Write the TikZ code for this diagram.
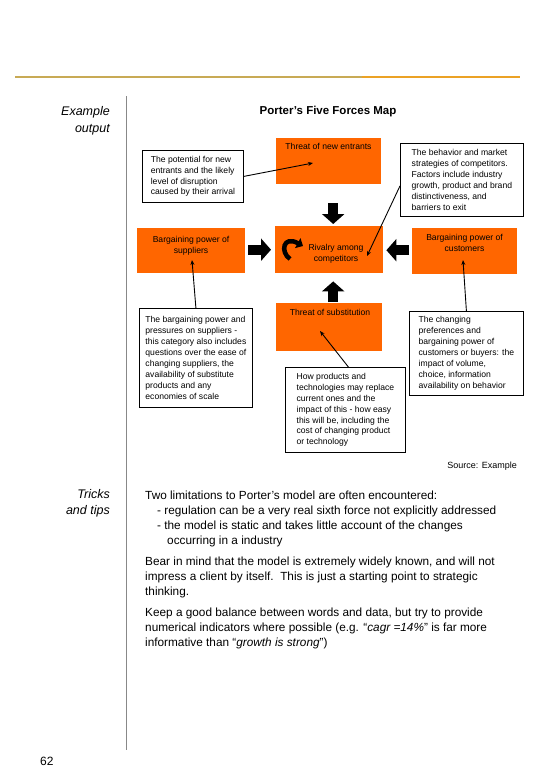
\documentclass[tikz,border=0pt]{standalone}
\usepackage{fontspec}
\setmainfont{Liberation Sans}
\usetikzlibrary{arrows.meta,calc}
\definecolor{porange}{HTML}{FF6600}
\definecolor{goldA}{HTML}{C8AA55}
\definecolor{goldB}{HTML}{EBA225}
\definecolor{vgray}{HTML}{888888}
\newcommand{\fdiag}{\fontsize{8.6}{10.9}\selectfont}
\newcommand{\fbody}{\fontsize{11.8}{15}\selectfont}
\newcommand{\fside}{\fontsize{12.5}{16.5}\selectfont\itshape}
\begin{document}
\begin{tikzpicture}[x=1pt,y=-1pt,
  force/.style={fill=porange, draw=none, inner sep=0pt, anchor=north west},
  forcetext/.style={font=\fdiag, align=center, anchor=north, inner sep=0pt},
  callout/.style={draw=black, line width=0.8pt, fill=white, font=\fdiag, align=left, anchor=north west, inner xsep=6pt, inner ysep=0pt},
  note/.style={-{Stealth[length=5pt,width=4pt]}, line width=0.9pt},
  blockarrow/.style={line width=10pt, -{Triangle[length=10pt,width=22pt]}},
  bodytext/.style={font=\fbody, align=left, anchor=north west, inner sep=0pt},
  sidetext/.style={font=\fside, align=right, anchor=north east, inner sep=0pt}
]
\useasboundingbox (0,0) rectangle (540,780);
\fill[white] (0,0) rectangle (540,780);

% rules
\draw[goldA, line width=2.5pt] (15,77) -- (362,77);
\draw[goldB, line width=2.5pt] (362,77) -- (520,77);
\draw[vgray, line width=1pt] (126,96) -- (126,750);

% side labels
\node[sidetext] (lab1) at (110,106.5) {Example\\output};
\node[sidetext] (lab2) at (110,489) {Tricks\\and tips};
\node[font=\fontsize{12}{14}\selectfont, anchor=base west, inner sep=0pt] (page) at (40,765) {62};

% title
\node[font=\fontsize{11.5}{14}\selectfont\bfseries, anchor=base, inner sep=0pt] (title) at (328,114) {Porter's Five Forces Map};

% forces
\node[force, minimum width=105pt, minimum height=46pt] (NE) at (276,138) {};
\node[forcetext] (NEt) at (328.5,143.5) {Threat of new entrants};
\node[force, minimum width=108pt, minimum height=45pt] (SUP) at (137,228) {};
\node[forcetext] (SUPt) at (191,236.5) {Bargaining power of\\suppliers};
\node[force, minimum width=108pt, minimum height=47pt] (RIV) at (275,226) {};
\node[forcetext] (RIVt) at (336,244) {Rivalry among\\competitors};
\node[force, minimum width=105pt, minimum height=46pt] (CUS) at (412,228) {};
\node[forcetext] (CUSt) at (464.5,234) {Bargaining power of\\customers};
\node[force, minimum width=106pt, minimum height=48pt] (SUB) at (276,303) {};
\node[forcetext] (SUBt) at (330,309.5) {Threat of substitution};

% block arrows
\draw[blockarrow, shorten <=19pt, shorten >=2pt] ([xshift=4.5pt]NE.south) -- ([xshift=4.5pt]NE.south |- RIV.north);
\draw[blockarrow, shorten <=1pt, shorten >=8pt] ([xshift=4pt]SUB.north) -- ([xshift=4pt]SUB.north |- RIV.south);
\draw[blockarrow, shorten <=3pt, shorten >=4pt] ([yshift=1pt]SUP.east) -- ([yshift=1pt]SUP.east -| RIV.west);
\draw[blockarrow, shorten <=3pt, shorten >=3pt] ([yshift=1pt]CUS.west) -- ([yshift=1pt]CUS.west -| RIV.east);

% circular arrow in rivalry box
\draw[line width=4.5pt, -{Triangle[length=6pt,width=11pt]}] (290,259) .. controls (280,252) and (283,235) .. (303,246);

% callouts
\node[callout, minimum width=101pt, minimum height=52pt] (A) at (142,150) {The potential for new\\entrants and the likely\\level of disruption\\caused by their arrival};
\node[callout, minimum width=123pt, minimum height=73pt] (B) at (400,143) {The behavior and market\\strategies of competitors.\\Factors include industry\\growth, product and brand\\distinctiveness, and\\barriers to exit};
\node[callout, minimum width=113pt, minimum height=99pt] (C) at (139,308) {The bargaining power and\\pressures on suppliers -\\this category also includes\\questions over the ease of\\changing suppliers, the\\availability of substitute\\products and any\\economies of scale};
\node[callout, minimum width=120pt, minimum height=85pt] (D) at (285,367) {How products and\\technologies may replace\\current ones and the\\impact of this - how easy\\this will be, including the\\cost of changing product\\or technology};
\node[callout, minimum width=114pt, minimum height=84pt] (E) at (409,311) {The changing\\preferences and\\bargaining power of\\customers or buyers: the\\impact of volume,\\choice, information\\availability on behavior};

% note connectors
\coordinate (NEp) at (313,163);
\coordinate (RIVp) at (367,256);
\coordinate (SUPp) at (192,260);
\coordinate (SUBp) at (320,331);
\coordinate (CUSp) at (463,260);
\draw[note] (A.east) -- (NEp);
\draw[note] ([yshift=-6pt]B.west) -- (RIVp);
\draw[note] (C.north) -- (SUPp);
\draw[note] ([xshift=3pt]D.north) -- (SUBp);
\draw[note] (E.north) -- (CUSp);

% source
\node[font=\fontsize{9}{11}\selectfont, anchor=base east, inner sep=0pt] (src) at (517,468) {Source: Example};

% body text
\node[bodytext] (p1) at (145,491) {Two limitations to Porter's model are often encountered:\\
\hspace*{12pt}- regulation can be a very real sixth force not explicitly addressed\\
\hspace*{12pt}- the model is static and takes little account of the changes\\
\hspace*{22pt}occurring in a industry};
\node[bodytext] (p2) at (145,557) {Bear in mind that the model is extremely widely known, and will not\\
impress a client by itself.\ \ This is just a starting point to strategic\\
thinking.};
\node[bodytext] (p3) at (145,608) {Keep a good balance between words and data, but try to provide\\
numerical indicators where possible (e.g. “\textit{cagr =14\%}” is far more\\
informative than “\textit{growth is strong}”)};
\end{tikzpicture}
\end{document}
